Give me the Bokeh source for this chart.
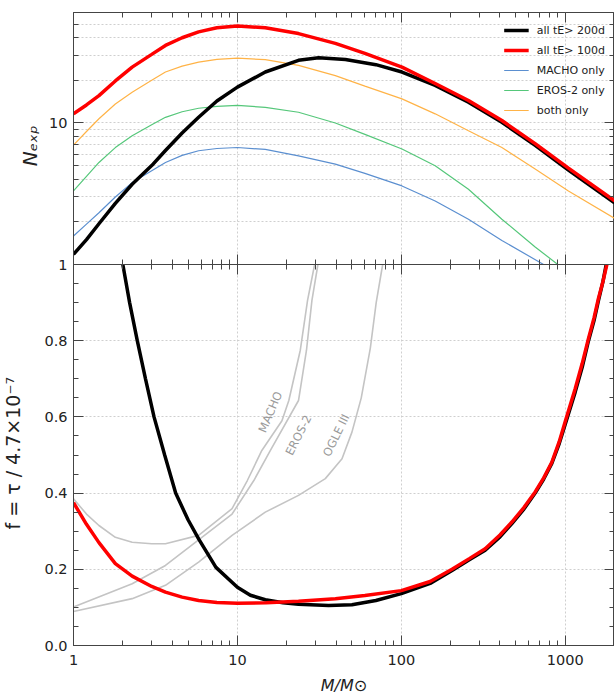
import math
from bokeh.plotting import figure
from bokeh.models import (Range1d, LogScale, LinearAxis, LogAxis, FixedTicker, Grid,
                          Legend, LegendItem, PrintfTickFormatter, Title)
from bokeh.embed import file_html
from bokeh.resources import INLINE

# ---------------- data: top panel (expected number of events) ----------------
m_all200 = [1, 1.2, 1.43, 1.8, 2.28, 3, 3.64, 4.6, 5.8, 7.5, 10, 14.8, 23.6, 31.3, 45.6, 70,
            101, 161, 257, 411, 656, 1047, 2000]
n_all200 = [1.18, 1.5, 1.94, 2.7, 3.69, 5.0, 6.39, 8.5, 10.96, 14.3, 17.9, 22.9, 27.7, 28.9,
            28.1, 25.8, 22.9, 18.4, 14.0, 10.1, 6.95, 4.65, 2.73]

m_all100 = [1, 1.2, 1.43, 1.8, 2.28, 3, 3.64, 4.6, 5.8, 7.5, 10, 14.8, 23.6, 39.6, 60, 101,
            161, 257, 411, 656, 1047, 2000]
n_all100 = [11.6, 13.4, 15.6, 19.8, 24.8, 30.5, 35.3, 40.0, 44.0, 47.0, 48.4, 47.0, 42.8, 36.5,
            31.0, 24.8, 19.0, 14.4, 10.4, 7.15, 4.8, 2.82]

m_macho = [1, 1.2, 1.43, 1.8, 2.28, 3, 3.64, 4.6, 5.8, 7.5, 10, 14.8, 23.6, 39.6, 60, 101,
           161, 257, 411, 738]
n_macho = [1.59, 1.93, 2.32, 3.0, 3.79, 4.6, 5.26, 5.9, 6.36, 6.6, 6.71, 6.5, 5.86, 5.12, 4.4,
           3.59, 2.81, 2.09, 1.48, 1.0]

m_eros = [1, 1.2, 1.43, 1.8, 2.28, 3, 3.64, 4.6, 5.8, 7.5, 10, 14.8, 23.6, 39.6, 60, 101,
          161, 257, 411, 656, 902]
n_eros = [3.31, 4.2, 5.26, 6.7, 8.13, 9.7, 10.96, 12.0, 12.7, 13.1, 13.3, 12.9, 11.9, 10.0, 8.3,
          6.54, 4.98, 3.4, 2.09, 1.33, 1.0]

m_both = [1, 1.2, 1.43, 1.8, 2.28, 3, 3.64, 4.6, 5.8, 7.5, 10, 14.8, 23.6, 39.6, 60, 101,
          161, 257, 411, 656, 1047, 2000]
n_both = [6.98, 8.7, 10.7, 13.6, 16.5, 20.0, 22.9, 25.2, 26.9, 28.1, 28.7, 28.0, 25.5, 21.6,
          18.2, 14.8, 11.6, 8.82, 6.71, 4.72, 3.31, 2.12]

# ---------------- data: bottom panel (halo fraction limits) ----------------
m_f200 = [2.0, 2.2, 2.45, 2.75, 3.1, 3.6, 4.2, 5.0, 5.8, 7.4, 10, 12, 14.8, 19, 23.6, 36, 50,
          70, 100, 150, 204, 260, 325, 400, 473, 560, 656, 740, 829, 920, 1000, 1151, 1270,
          1388, 1500, 1596, 1700, 1780]
f_f200 = [1.0, 0.9, 0.8, 0.7, 0.6, 0.5, 0.4, 0.33, 0.28, 0.205, 0.153, 0.132, 0.12, 0.112,
          0.108, 0.105, 0.107, 0.118, 0.136, 0.163, 0.197, 0.225, 0.25, 0.285, 0.32, 0.358,
          0.40, 0.437, 0.478, 0.53, 0.58, 0.665, 0.73, 0.80, 0.853, 0.905, 0.955, 1.0]

m_f100 = [1, 1.2, 1.43, 1.8, 2.28, 3, 3.64, 4.6, 5.8, 7.5, 10, 15, 23.6, 39.6, 60, 100, 150,
          204, 260, 325, 400, 473, 560, 656, 740, 829, 920, 1000, 1151, 1270, 1388, 1500,
          1596, 1700, 1796]
f_f100 = [0.375, 0.318, 0.27, 0.215, 0.182, 0.155, 0.14, 0.127, 0.118, 0.113, 0.111, 0.112,
          0.116, 0.123, 0.131, 0.144, 0.168, 0.2, 0.228, 0.254, 0.29, 0.324, 0.362, 0.403,
          0.44, 0.481, 0.535, 0.587, 0.674, 0.74, 0.806, 0.86, 0.911, 0.955, 1.0]

m_lim_macho = [1, 1.2, 1.43, 1.8, 2.28, 3, 3.64, 5.8, 9.28, 11.5, 14.1, 18.7, 20.6, 24.2, 26.8, 29.6]
f_lim_macho = [0.385, 0.345, 0.315, 0.284, 0.271, 0.267, 0.267, 0.289, 0.359, 0.433, 0.512,
               0.59, 0.643, 0.775, 0.906, 1.0]

m_lim_eros = [1, 2.28, 3.64, 5.8, 9.28, 12.6, 15.9, 23.6, 26.4, 28.5, 31.0]
f_lim_eros = [0.101, 0.162, 0.21, 0.277, 0.345, 0.433, 0.512, 0.643, 0.775, 0.906, 1.0]

m_lim_ogle = [1, 2.28, 3.64, 5.8, 9.28, 14.8, 23.6, 34.4, 43.5, 50, 57, 64.7, 70.3, 77]
f_lim_ogle = [0.089, 0.123, 0.158, 0.219, 0.289, 0.35, 0.394, 0.438, 0.49, 0.56, 0.65, 0.78, 0.9, 1.0]

label_names = ["MACHO", "EROS-2", "OGLE  III"]
label_m = [15.9, 23.6, 40.5]
label_f = [0.613, 0.552, 0.556]
label_angle = [67, 63, 64]

legend_labels = ["all tE> 200d", "all tE> 100d", "MACHO only", "EROS-2 only", "both only"]

x_major = [1, 10, 100, 1000]
x_minor = [k * d for d in (1, 10, 100) for k in range(2, 10)] + [2000]
f_major = [0.0, 0.2, 0.4, 0.6, 0.8]
f_minor = [round(0.05 * i, 2) for i in range(1, 20)]
n_major = [1, 10]
n_minor = [2, 3, 4, 5, 6, 7, 8, 9, 20, 30, 40, 50, 60]
n_grid = [2, 3, 4, 5, 6, 7, 8, 9, 10, 20, 30, 40, 50]

# ---------------- layout constants ----------------
X_MIN, X_MAX = 1.0, 2000.0
N_MIN, N_MAX = 1.0, 60.3
F_MAX = 1.0
FRAME_W, H_TOP, H_BOT = 541, 252, 381
F_TOP = F_MAX * (1 + H_TOP / H_BOT)
N_LO = N_MIN / (N_MAX / N_MIN) ** (H_BOT / H_TOP)


def f_of_n(n):
    # position of an N value of the (log) upper panel on the shared left axis
    return F_MAX + (F_TOP - F_MAX) * math.log10(n / N_MIN) / math.log10(N_MAX / N_MIN)


left_major = f_major + [f_of_n(v) for v in n_major]
left_minor = f_minor + [f_of_n(v) for v in n_minor]
left_overrides = {f_of_n(v): str(v) for v in n_major}

FONT = "DejaVu Sans"
AX = "#444444"
TXT = "#222222"
GRID = "#cfcfcf"

p = figure(frame_width=FRAME_W, frame_height=H_TOP + H_BOT,
           x_axis_type="log", x_range=Range1d(X_MIN, X_MAX), y_range=Range1d(0, F_TOP),
           output_backend="svg", toolbar_location=None,
           min_border_left=73, min_border_right=0, min_border_top=12, min_border_bottom=0)
p.extra_y_ranges = {"top": Range1d(N_LO, N_MAX)}
p.extra_y_scales = {"top": LogScale()}
p.outline_line_color = AX
p.background_fill_color = "white"
p.border_fill_color = "white"


def style_axis(ax, labels=True):
    ax.major_tick_in = 10
    ax.major_tick_out = 0
    ax.minor_tick_in = 5
    ax.minor_tick_out = 0
    ax.axis_line_color = AX
    ax.major_tick_line_color = AX
    ax.minor_tick_line_color = AX
    ax.major_label_text_font = FONT
    ax.major_label_text_font_size = "14.5px"
    ax.major_label_text_color = TXT if labels else None
    ax.axis_label_text_font = FONT
    ax.axis_label_text_color = TXT


# bottom x axis (with labels)
xa = p.xaxis[0]
xa.ticker = FixedTicker(ticks=x_major, minor_ticks=x_minor)
xa.formatter = PrintfTickFormatter(format="%d")
style_axis(xa)
xa.major_label_standoff = 9
xa.axis_label = "M/M⊙"
xa.axis_label_text_font_size = "16px"
xa.axis_label_text_font_style = "italic"
xa.axis_label_standoff = 8

# shared left axis: linear f below, log N above
ya = p.yaxis[0]
ya.ticker = FixedTicker(ticks=left_major, minor_ticks=left_minor)
ya.formatter = PrintfTickFormatter(format="%.1f")
ya.major_label_overrides = left_overrides
ya.bounds = (0, F_TOP)
style_axis(ya)
ya.major_label_standoff = 6

# axis title of the upper panel: anchored from the frame top
p.add_layout(Title(text="Nₑₓₚ", align="right", offset=113,
                   standoff=0, text_font=FONT, text_font_size="20px",
                   text_font_style="italic", text_color=TXT), "left")
# axis title of the lower panel: anchored from the frame bottom
p.add_layout(Title(text="f =  τ / 4.7×10⁻⁷", align="left", offset=116,
                   standoff=-16, text_font=FONT, text_font_size="19px",
                   text_font_style="normal", text_color=TXT), "left")

# right axis (ticks only)
yr = LinearAxis(fixed_location=X_MAX, ticker=FixedTicker(ticks=left_major, minor_ticks=left_minor))
style_axis(yr, labels=False)
p.add_layout(yr, "right")

# top edge and panel boundary (ticks only)
for loc, side in ((F_TOP, "above"), (F_MAX, "above"), (F_MAX, "below")):
    a = LogAxis(fixed_location=loc, ticker=FixedTicker(ticks=x_major, minor_ticks=x_minor))
    style_axis(a, labels=False)
    p.add_layout(a, side)

# grids
p.xgrid.ticker = FixedTicker(ticks=[10, 100, 1000])
p.ygrid.ticker = FixedTicker(ticks=[0.2, 0.4, 0.6, 0.8])
for g in (p.xgrid[0], p.ygrid[0]):
    g.grid_line_color = GRID
    g.grid_line_dash = "2 2"
    g.grid_line_width = 1
g_top = Grid(dimension=1, y_range_name="top", ticker=FixedTicker(ticks=n_grid),
             grid_line_color=GRID, grid_line_dash="2 2", grid_line_width=1)
p.add_layout(g_top)

# ---------------- top panel curves ----------------
r_macho = p.line(m_macho, n_macho, y_range_name="top", line_color="#5b8fd0", line_width=1.2)
r_eros = p.line(m_eros, n_eros, y_range_name="top", line_color="#55c77a", line_width=1.2)
r_both = p.line(m_both, n_both, y_range_name="top", line_color="#ffb347", line_width=1.2)
r_200 = p.line(m_all200, n_all200, y_range_name="top", line_color="black", line_width=3.5)
r_100 = p.line(m_all100, n_all100, y_range_name="top", line_color="#ff0000", line_width=3.5)

# ---------------- bottom panel curves ----------------
for mm, ff in ((m_lim_macho, f_lim_macho), (m_lim_eros, f_lim_eros), (m_lim_ogle, f_lim_ogle)):
    p.line(mm, ff, line_color="#c4c4c4", line_width=1.6)
p.line(m_f200, f_f200, line_color="black", line_width=3.5)
p.line(m_f100, f_f100, line_color="#ff0000", line_width=3.5)

p.text(x=label_m, y=label_f, text=label_names, angle=label_angle, angle_units="deg",
       text_align="center", text_baseline="middle", text_color="#9a9a9a",
       text_font_size="11.5px", text_font={"value": FONT})

legend = Legend(items=[LegendItem(label=legend_labels[0], renderers=[r_200]),
                       LegendItem(label=legend_labels[1], renderers=[r_100]),
                       LegendItem(label=legend_labels[2], renderers=[r_macho]),
                       LegendItem(label=legend_labels[3], renderers=[r_eros]),
                       LegendItem(label=legend_labels[4], renderers=[r_both])],
                location="top_right", margin=5, padding=4, spacing=2,
                glyph_width=25, glyph_height=18, label_height=18, label_standoff=8,
                label_text_font=FONT, label_text_font_size="11px", label_text_color=TXT,
                border_line_alpha=0, background_fill_alpha=0)
p.add_layout(legend)

open("out.html", "w").write(file_html(p, INLINE, "plot"))
